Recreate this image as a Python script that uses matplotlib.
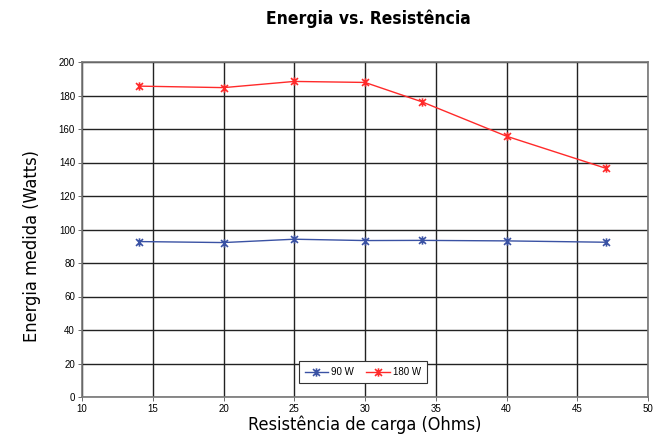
import matplotlib
matplotlib.use("Agg")
import matplotlib.pyplot as plt
from matplotlib.path import Path

resistance = [14, 20, 25, 30, 34, 40, 47]
power_90 = [92.8, 92.2, 94.2, 93.4, 93.5, 93.2, 92.4]
power_180 = [185.6, 184.7, 188.4, 187.8, 176.3, 155.7, 136.6]
series_labels = ["90 W", "180 W"]
title = "Energia vs. Resistência"
xlabel = "Resistência de carga (Ohms)"
ylabel = "Energia medida (Watts)"

plt.rcParams['font.family'] = ['Liberation Sans', 'DejaVu Sans']
cond = dict(family=['DejaVu Sans'], stretch='condensed')

star = Path([(-1, -1), (1, 1), (-1, 1), (1, -1), (0, -1.2), (0, 1.2)],
            [Path.MOVETO, Path.LINETO, Path.MOVETO, Path.LINETO, Path.MOVETO, Path.LINETO])

fig = plt.figure(figsize=(6.62, 4.37), dpi=100)
ax = fig.add_axes([82/662, 1-397/437, 566/662, 335/437])

ax.plot(resistance, power_90, color='#3A52A4', lw=1.0, marker=star, ms=6, mew=1.2,
        label=series_labels[0])
ax.plot(resistance, power_180, color='#FF2A2A', lw=1.0, marker=star, ms=6, mew=1.2,
        label=series_labels[1])

ax.set_xlim(10, 50)
ax.set_ylim(0, 200)
ax.set_xticks(range(10, 51, 5))
ax.set_yticks(range(0, 201, 20))
ax.grid(True, color='#222222', lw=1.0)
ax.set_axisbelow(True)
for s in ax.spines.values():
    s.set_color('#777777')
    s.set_linewidth(1.2)
ax.tick_params(labelsize=7, length=3, width=0.6, color='#555555', pad=2)

ax.set_xlabel(xlabel, fontsize=13, labelpad=1, **cond)
ax.set_ylabel(ylabel, fontsize=13, **cond)
ax.yaxis.set_label_coords(-0.073, 0.45)
fig.text(0.557, 0.957, title, ha='center', va='center', fontsize=12.5, fontweight='bold', **cond)

leg = ax.legend(loc='lower center', bbox_to_anchor=(0.496, 0.027), ncol=2, fontsize=7,
                frameon=True, fancybox=False, edgecolor='#333333', framealpha=1,
                handlelength=2.4, columnspacing=1.3, borderpad=0.6, handletextpad=0.3)
leg.get_frame().set_linewidth(0.8)

fig.savefig("out.png", dpi=100)
